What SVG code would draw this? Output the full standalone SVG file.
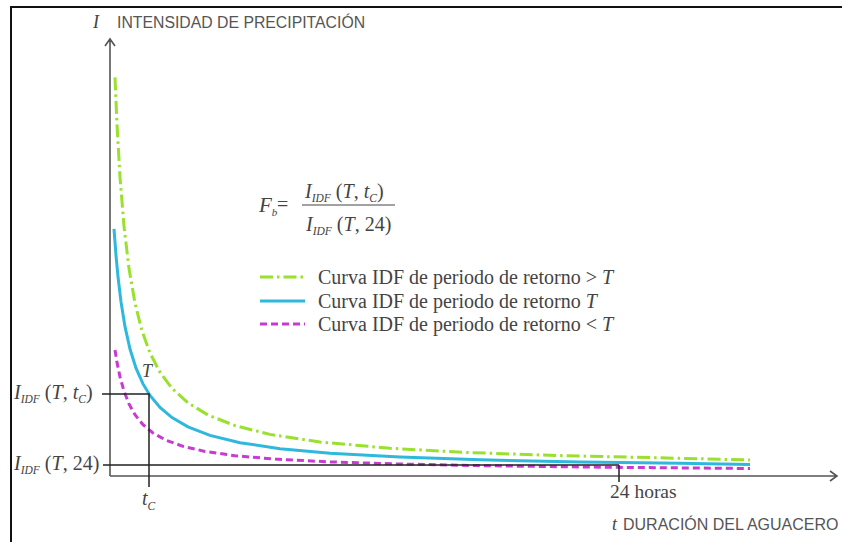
<svg xmlns="http://www.w3.org/2000/svg" width="842" height="542" viewBox="0 0 842 542">
<style>
.sans{font-family:"Liberation Sans",Arial,sans-serif;fill:#555}
.ser{font-family:"Liberation Serif","Times New Roman",serif;fill:#444}
.it{font-style:italic}
.sub{font-size:11.5px;font-style:italic}
.axis{stroke:#555;stroke-width:1.6;fill:none}
.ref{stroke:#222;stroke-width:1.5;fill:none}
.green{stroke:#9ae02e;stroke-width:3;fill:none;stroke-dasharray:13 4 2.5 4}
.blue{stroke:#2fb8de;stroke-width:3;fill:none}
.mag{stroke:#c83ad2;stroke-width:3;fill:none;stroke-dasharray:7 4}
</style>
<rect width="842" height="542" fill="#fff"/>
<path d="M11,542 V7 H842" stroke="#111" stroke-width="2" fill="none"/>
<g id="axes">
<path class="axis" d="M110,476 V39 M105,46 L110,39 L115,46"/>
<path class="axis" d="M110,476 H837 M830,471 L837,476 L830,481"/>
<text class="ser it" x="93" y="28" font-size="18">I</text>
<text class="sans" x="117" y="28" font-size="15.8">INTENSIDAD DE PRECIPITACIÓN</text>
<text class="ser it" x="612" y="530" font-size="18">t</text>
<text class="sans" x="623" y="530" font-size="16">DURACIÓN DEL AGUACERO</text>
</g>
<g id="curves">
<path class="green" d="M115,77.4 L117,124.4 L120,177 L124,226.3 L129,268.6 L135,303.2 L142,330.9 L150,353 L160,372.3 L172,388.3 L188,402.9 L208,415 L235,425.6 L270,434.4 L320,442 L390,448.3 L470,452.6 L560,455.6 L660,457.8 L750,460"/>
<path class="blue" d="M114,228.8 L116,255.4 L118,276.8 L121,301.9 L125,326.7 L130,349 L136,368.1 L143,383.9 L150,395.5 L160,407.5 L172,417.6 L188,426.9 L210,435.4 L240,442.7 L280,448.7 L330,453.3 L400,457.1 L480,459.8 L580,461.9 L680,463.3 L750,464.5"/>
<path class="mag" d="M115,349.9 L117,362.4 L120,376.9 L124,391.2 L129,403.9 L135,414.7 L143,424.6 L153,433 L166,440.2 L183,446.3 L205,451.4 L235,455.7 L275,459.1 L330,461.9 L400,464 L490,465.8 L600,467.2 L750,468.5"/>
</g>
<g id="references">
<path class="ref" d="M102,394 H149 V487"/>
<path class="ref" d="M103,465 H619 M619,465 V482"/>
</g>
<g id="labels">
<text class="ser" x="14" y="399" font-size="20"><tspan class="it">I</tspan><tspan class="sub" dy="4">IDF</tspan><tspan dy="-4"> (</tspan><tspan class="it">T</tspan>, <tspan class="it">t</tspan><tspan class="sub" dy="4">C</tspan><tspan dy="-4">)</tspan></text>
<text class="ser" x="14" y="470" font-size="20"><tspan class="it">I</tspan><tspan class="sub" dy="4">IDF</tspan><tspan dy="-4"> (</tspan><tspan class="it">T</tspan>, 24)</text>
<text class="ser it" x="142" y="505" font-size="20">t<tspan class="sub" dy="5">C</tspan></text>
<text class="ser it" x="142" y="377" font-size="18">T</text>
<text class="ser" x="610" y="498" font-size="19.5">24 horas</text>
</g>
<g id="formula">
<text class="ser it" x="259" y="212" font-size="21">F<tspan font-size="11" dy="4">b</tspan></text>
<text class="ser" x="277" y="211" font-size="20">=</text>
<line x1="302" y1="205" x2="395" y2="205" stroke="#444" stroke-width="1"/>
<text class="ser" x="305" y="198" font-size="20"><tspan class="it">I</tspan><tspan class="sub" dy="4">IDF</tspan><tspan dy="-4"> (</tspan><tspan class="it">T</tspan>, <tspan class="it">t</tspan><tspan class="sub" dy="4">C</tspan><tspan dy="-4">)</tspan></text>
<text class="ser" x="306" y="231" font-size="20"><tspan class="it">I</tspan><tspan class="sub" dy="4">IDF</tspan><tspan dy="-4"> (</tspan><tspan class="it">T</tspan>, 24)</text>
</g>
<g id="legend">
<line class="green" x1="260" y1="277" x2="305" y2="277"/>
<line class="blue" x1="260" y1="301" x2="305" y2="301"/>
<line class="mag" x1="260" y1="324" x2="305" y2="324"/>
<text class="ser" x="318" y="284" font-size="20">Curva IDF de periodo de retorno &gt; <tspan class="it">T</tspan></text>
<text class="ser" x="318" y="308" font-size="20">Curva IDF de periodo de retorno <tspan class="it">T</tspan></text>
<text class="ser" x="318" y="331" font-size="20">Curva IDF de periodo de retorno &lt; <tspan class="it">T</tspan></text>
</g>
</svg>
